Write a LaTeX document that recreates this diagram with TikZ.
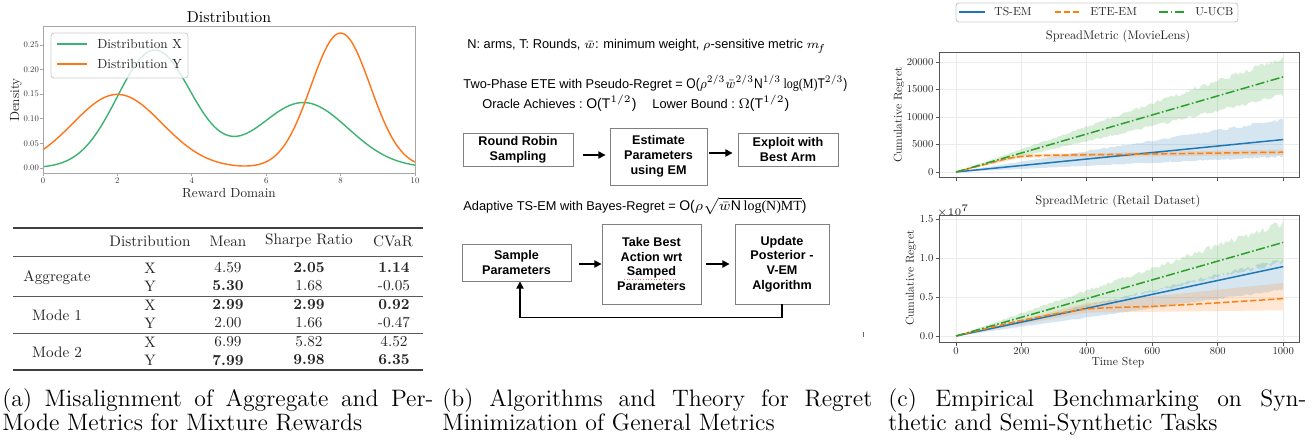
\documentclass[tikz,border=0pt]{standalone}
\usepackage{amsmath}
\usepackage{graphicx}
\usepackage{fontspec}
\newfontfamily\hv{Liberation Sans}
\newfontfamily\tms{Liberation Serif}
\newfontfamily\lmten{lmroman10-regular.otf}[BoldFont=lmroman10-bold.otf]
\usetikzlibrary{arrows.meta,calc}
\definecolor{tabblue}{HTML}{1F77B4}
\definecolor{taborange}{HTML}{FF7F0E}
\definecolor{tabgreen}{HTML}{2CA02C}
\definecolor{distX}{HTML}{3CB371}
\definecolor{distY}{HTML}{FF7417}
\definecolor{gridc}{HTML}{EBEBEB}
\definecolor{spine}{HTML}{555555}
\newcommand{\fmlsz}{\fontsize{7}{8}\selectfont}
\newcommand{\sqz}[1]{\scalebox{0.86}[1]{#1}}
\tikzset{
  frameA/.style={draw=black!35, line width=0.45pt},
  tickA/.style={font=\lmten\fontsize{4.3}{5}\selectfont, inner sep=0.4pt, text=black!80},
  labA/.style={font=\lmten\fontsize{6.6}{7}\selectfont, inner sep=0, text=black!85},
  curveA/.style={line width=0.7pt},
  tabtxt/.style={font=\lmten\fontsize{7.6}{8}\selectfont, inner sep=0, text=black!85},
  rulethick/.style={draw=black!75, line width=0.8pt},
  rulethin/.style={draw=black!65, line width=0.45pt},
  txtB/.style={font=\hv\fontsize{6.4}{7}\selectfont, inner sep=0, anchor=west},
  boxB/.style={draw=black!50, line width=0.45pt, fill=white, align=center, inner sep=0,
     font=\hv\bfseries\fontsize{6.3}{7.4}\selectfont},
  arrB/.style={line width=0.75pt, -{Triangle[length=3.6pt,width=3.6pt]}},
  spineC/.style={draw=spine, line width=0.5pt},
  gridC/.style={draw=gridc, line width=0.45pt},
  tickC/.style={font=\lmten\fontsize{5.3}{6}\selectfont, inner sep=0.4pt, text=black!85},
  labC/.style={font=\lmten\fontsize{5.8}{6}\selectfont, inner sep=0, text=black!85},
  titC/.style={font=\lmten\fontsize{6.2}{7}\selectfont, inner sep=0, text=black!85},
  lineC/.style={line width=0.75pt},
  dashC/.style={dash pattern=on 3.2pt off 1.3pt},
  dashdotC/.style={dash pattern=on 4.6pt off 1.2pt on 0.8pt off 1.2pt},
  bandC/.style={fill opacity=0.18},
  capt/.style={font=\fontsize{11.9}{11}\selectfont, align=justify, inner sep=0, anchor=north west}
}
\begin{document}
\pgfmathsetseed{11}
\begin{tikzpicture}[x=0.5pt,y=-0.5pt]
\useasboundingbox (0,0) rectangle (1314,440);
\fill[white] (0,0) rectangle (1314,440);

%%%%%%%%%%%%%%%% (a) distribution plot
\node[font=\lmten\fontsize{7.9}{8}\selectfont, inner sep=0] (tA) at (229,17) {Distribution};
\draw[distX, curveA] plot[domain=0:10, samples=160, smooth]
  ({43+37.2*\x}, {168-492*(0.23936*exp(-(\x-3)*(\x-3)/2)+0.13298*exp(-(\x-7)*(\x-7)/2.88))});
\draw[distY, curveA] plot[domain=0:10, samples=160, smooth]
  ({43+37.2*\x}, {168-492*(0.1496*exp(-(\x-2)*(\x-2)/2.88)+0.27427*exp(-(\x-8)*(\x-8)/1.28))});
\draw[frameA] (43,26) rectangle (415,173);
\foreach \v [count=\i] in {0,2,4,6,8,10}{
  \draw[frameA] ({43+37.2*\v},173) -- ++(0,3);
  \node[tickA, anchor=north] (ax\i) at ({43+37.2*\v},176.5) {\v};
}
\foreach \v/\l [count=\i] in {0/0.00,0.05/0.05,0.10/0.10,0.15/0.15,0.20/0.20,0.25/0.25}{
  \draw[frameA] (43,{168-492*\v}) -- ++(-3,0);
  \node[tickA, anchor=east] (ay\i) at (40,{168-492*\v}) {\l};
}
\node[labA, rotate=90] (dens) at (16,100) {Density};
\node[labA] (rdom) at (229,193) {Reward Domain};
% legend
\draw[draw=black!20, fill=white, fill opacity=0.8, rounded corners=1.5pt, line width=0.4pt] (51,33) rectangle (188,78);
\draw[distX, curveA] (57,44) -- (87,44);
\node[labA, anchor=west] (lgx) at (97,44) {Distribution X};
\draw[distY, curveA] (57,64) -- (87,64);
\node[labA, anchor=west] (lgy) at (97,64) {Distribution Y};

%%%%%%%%%%%%%%%% (a) table
\draw[rulethick] (13,228) -- (423,228);
\draw[rulethin] (13,256) -- (423,256);
\draw[rulethin] (13,296) -- (423,296);
\draw[rulethin] (13,333) -- (423,333);
\draw[rulethick] (13,370) -- (423,370);
\node[tabtxt] (h1) at (150,241) {Distribution};
\node[tabtxt] (h2) at (228,241) {Mean};
\node[tabtxt] (h3) at (309,241) {Sharpe Ratio};
\node[tabtxt] (h4) at (393,241) {CVaR};
\node[tabtxt] (r1) at (57,278) {Aggregate};
\node[tabtxt] (r2) at (57,315) {Mode 1};
\node[tabtxt] (r3) at (57,352) {Mode 2};
\foreach \yy/\d/\m/\s/\c [count=\i] in {
  268/X/4.59/\textbf{2.05}/\textbf{1.14},
  286/Y/\textbf{5.30}/1.68/-0.05,
  305/X/\textbf{2.99}/\textbf{2.99}/\textbf{0.92},
  323/Y/2.00/1.66/-0.47,
  342/X/6.99/5.82/4.52,
  360/Y/\textbf{7.99}/\textbf{9.98}/\textbf{6.35}}{
  \node[tabtxt] (cd\i) at (150,\yy) {\d};
  \node[tabtxt] (cm\i) at (228,\yy) {\m};
  \node[tabtxt] (cs\i) at (309,\yy) {\s};
  \node[tabtxt] (cc\i) at (394,\yy) {\c};
}

%%%%%%%%%%%%%%%% (b) algorithms
\node[txtB] (t1) at (467,46) {N: arms, T: Rounds, $\bar{w}$: minimum weight, $\rho$-sensitive metric $m_{\!f}$};
\node[txtB] (t2) at (463,83) {Two-Phase ETE with Pseudo-Regret =\ \sqz{\fmlsz O($\rho^{2/3}\bar{w}^{2/3}$N$^{1/3}\,${\tms log(M)}T$^{2/3}$)}};
\node[txtB] (t3) at (482,103) {Oracle Achieves :\ {\fmlsz O(T$^{1/2}$)}\hspace{8pt}Lower Bound :\ {\fmlsz $\Omega$(T$^{1/2}$)}};
\node[boxB, minimum width=55pt, minimum height=16.5pt] (b1) at (518,149.5) {Round Robin\\Sampling};
\node[boxB, minimum width=48.5pt, minimum height=28.5pt] (b2) at (658.5,156.5) {Estimate\\Parameters\\using EM};
\node[boxB, minimum width=50pt, minimum height=16.5pt] (b3) at (788,149.5) {Exploit with\\Best Arm};
\draw[arrB] ([shift={(10,5.5)}]b1.east) -- ([shift={(-4,-1.5)}]b2.west);
\draw[arrB] ([shift={(2,-3.5)}]b2.east) -- ([shift={(-5,3.5)}]b3.west);
\node[txtB] (t4) at (463,206) {Adaptive TS-EM with Bayes-Regret =\ {\fmlsz O($\rho\sqrt{\bar{w}\hbox{N}\,\hbox{\tms log(N)MT}}$)}};
\node[boxB, minimum width=54.5pt, minimum height=18.5pt] (b4) at (516.5,262.5) {Sample\\Parameters};
\node[boxB, minimum width=49.5pt, minimum height=40pt] (b5) at (651.5,264) {Take Best\\Action wrt\\Samped\\Parameters};
\node[boxB, minimum width=47pt, minimum height=40pt] (b6) at (782,264) {Update\\Posterior -\\V-EM\\Algorithm};
\draw[red!60, densely dotted, line width=0.35pt] (624,279.5) -- (677,279.5);
\draw[arrB] ([shift={(8,1.5)}]b4.east) -- (b5.west);
\draw[arrB] ([shift={(5,0)}]b5.east) -- ([shift={(-5,0)}]b6.west);
\draw[arrB] (b6.south) -- ++(0,13) -| ([xshift=1.75pt]b4.south);
\draw[black!60, line width=0.4pt] (863,332) -- (863,337);

%%%%%%%%%%%%%%%% (c) legend
\draw[draw=black!20, fill=white, rounded corners=1.5pt, line width=0.45pt] (956,3) rectangle (1238,22);
\draw[tabblue, lineC] (959,12) -- (985,12);
\node[labC, anchor=west] (lg1) at (994,12) {TS-EM};
\draw[taborange, lineC, dashC] (1055,12) -- (1081,12);
\node[labC, anchor=west] (lg2) at (1090,12) {ETE-EM};
\draw[tabgreen, lineC, dashdotC] (1159,12) -- (1185,12);
\node[labC, anchor=west] (lg3) at (1195,12) {U-UCB};

%%%%%%%%%%%%%%%% (c) top plot
\node[titC] (tc1) at (1118,36) {SpreadMetric (MovieLens)};
\foreach \t in {0,200,400,600,800,1000}{
  \draw[gridC] ({956+0.3272*\t},52) -- ({956+0.3272*\t},177);
  \draw[spineC] ({956+0.3272*\t},177) -- ++(0,3.5);
}
\foreach \v/\l [count=\i] in {0/0,5/5000,10/10000,15/15000,20/20000}{
  \draw[gridC] (939,{172-5.5*\v}) -- (1299,{172-5.5*\v});
  \draw[spineC] (939,{172-5.5*\v}) -- ++(-3.5,0);
  \node[tickC, anchor=east] (cy\i) at (934.5,{172-5.5*\v}) {\l};
}
\begin{scope}[shift={(956,172)}, x=0.1636pt, y=2.75pt]
  \fill[tabgreen, bandC] plot[domain=0:1000, samples=160] (\x,{0.0207*\x+0.0005*\x*rand})
     -- plot[domain=1000:0, samples=160] (\x,{0.0140*\x+0.0004*\x*rand}) -- cycle;
  \fill[tabblue, bandC] plot[domain=0:1000, samples=160] (\x,{0.0095*\x+0.0003*\x*rand})
     -- plot[domain=1000:0, samples=160] (\x,{0.0028*\x+0.0002*\x*rand}) -- cycle;
  \fill[taborange, bandC] (0,0) -- (200,3.2) -- (1000,4.1) -- (1000,3.1) -- (200,2.6) -- cycle;
  \draw[tabblue, lineC] (0,0) -- (1000,5.9);
  \draw[taborange, lineC, dashC] (0,0) -- (150,2.35) .. controls (200,3.0) and (250,3.0) .. (300,3.05) -- (1000,3.6);
  \draw[tabgreen, lineC, dashdotC] (0,0) -- (1000,17.3);
\end{scope}
\draw[spineC] (939,52) rectangle (1299,177);
\node[labC, rotate=90] (cl1) at (899,115) {Cumulative Regret};

%%%%%%%%%%%%%%%% (c) bottom plot
\node[titC] (tc2) at (1118,201) {SpreadMetric (Retail Dataset)};
\foreach \t [count=\i] in {0,200,400,600,800,1000}{
  \draw[gridC] ({956+0.3272*\t},215) -- ({956+0.3272*\t},342);
  \draw[spineC] ({956+0.3272*\t},342) -- ++(0,3.5);
  \node[tickC, anchor=north] (cx\i) at ({956+0.3272*\t},346.5) {\t};
}
\foreach \v [count=\i] in {0.0,0.5,1.0,1.5}{
  \draw[gridC] (939,{336-78*\v}) -- (1299,{336-78*\v});
  \draw[spineC] (939,{336-78*\v}) -- ++(-3.5,0);
  \node[tickC, anchor=east] (cz\i) at (934.5,{336-78*\v}) {\v};
}
\node[tickC] (e7) at (953,211) {$\times10^{7}$};
\begin{scope}[shift={(956,336)}, x=0.1636pt, y=39pt]
  \fill[tabgreen, bandC] plot[domain=0:1000, samples=160] (\x,{0.00145*\x+0.00004*\x*rand})
     -- plot[domain=1000:0, samples=160] (\x,{0.00095*\x+0.00003*\x*rand}) -- cycle;
  \fill[tabblue, bandC] plot[domain=0:1000, samples=160] (\x,{0.00097*\x+0.00003*\x*rand})
     -- plot[domain=1000:0, samples=160] (\x,{0.0006*\x+0.00002*\x*rand}) -- cycle;
  \fill[taborange, bandC] (0,0) -- (400,0.42) -- (1000,0.68) -- (1000,0.33) -- (400,0.3) -- cycle;
  \draw[tabblue, lineC] (0,0) -- (1000,0.89);
  \draw[taborange, lineC, dashC] plot[smooth] coordinates {(0,0) (200,0.2) (400,0.345) (600,0.38) (800,0.425) (1000,0.48)};
  \draw[tabgreen, lineC, dashdotC] (0,0) -- (1000,1.2);
\end{scope}
\draw[spineC] (939,215) rectangle (1299,342);
\node[labC, rotate=90] (cl2) at (911,278) {Cumulative Regret};
\node[labC] (tstep) at (1118,363) {Time Step};

%%%%%%%%%%%%%%%% captions
\node[capt, text width=215.5pt] (capa) at (2,388) {(a) Misalignment of Aggregate and Per-\linebreak Mode Metrics for Mixture Rewards};
\node[capt, text width=215pt] (capb) at (442,388) {(b) Algorithms and Theory for Regret\linebreak Minimization of General Metrics};
\node[capt, text width=209pt] (capc) at (888,388) {(c) Empirical Benchmarking on Syn-\linebreak thetic and Semi-Synthetic Tasks};
\end{tikzpicture}
\end{document}
